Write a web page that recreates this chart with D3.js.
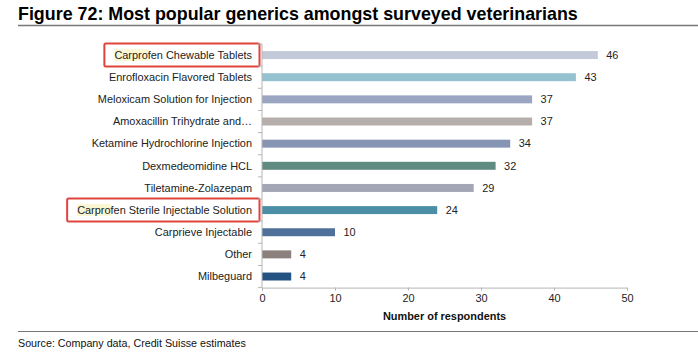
<!DOCTYPE html>
<html><head><meta charset="utf-8">
<script src="https://cdn.jsdelivr.net/npm/d3@7"></script>
<style>
html,body{margin:0;padding:0;background:#fff;}
svg{display:block;font-family:"Liberation Sans",Arial,sans-serif;}
</style></head>
<body><svg id="c" width="698" height="357"></svg>
<script>
const categories = [
  "Carprofen Chewable Tablets",
  "Enrofloxacin Flavored Tablets",
  "Meloxicam Solution for Injection",
  "Amoxacillin Trihydrate and\u2026",
  "Ketamine Hydrochlorine Injection",
  "Dexmedeomidine HCL",
  "Tiletamine-Zolazepam",
  "Carprofen Sterile Injectable Solution",
  "Carprieve Injectable",
  "Other",
  "Milbeguard"
];
const values = [46, 43, 37, 37, 34, 32, 29, 24, 10, 4, 4];
const barColors = ["#c3c9d8","#94c2d0","#9aa6c1","#b6aeaa","#8795b5","#5f8b80","#a2a6b5","#4a8fa6","#4e7099","#8b807c","#245282"];
const highlighted = ["Carprofen Chewable Tablets","Carprofen Sterile Injectable Solution"];
const xTicks = [0, 10, 20, 30, 40, 50];
const titleText = "Figure 72: Most popular generics amongst surveyed veterinarians";
const xAxisTitle = "Number of respondents";
const sourceText = "Source: Company data, Credit Suisse estimates";

const svg = d3.select("#c");
const x = d3.scaleLinear().domain([0, 50]).range([262, 627]);
const y = d3.scaleBand().domain(categories).range([44, 287.6]).paddingInner(0.64).paddingOuter(0.32);

function fit(sel, target){
  const w = sel.node().getComputedTextLength();
  const fs = parseFloat(sel.attr("font-size"));
  sel.attr("font-size", (fs * target / w).toFixed(2));
}

// Title
const t = svg.append("text").attr("x", 18).attr("y", 20).attr("font-size", 16)
  .attr("font-weight", "bold").attr("fill", "#000").text(titleText);
fit(t, 560);
svg.append("line").attr("x1", 18).attr("x2", 698).attr("y1", 25.5).attr("y2", 25.5)
  .attr("stroke", "#777").attr("stroke-width", 1.6);

const probe = svg.append("text").attr("font-size", 11).text(categories[7]);
fit(probe, 175);
const labelFs = +probe.attr("font-size");
probe.remove();

// highlight boxes
const boxes = svg.append("g");
categories.forEach(c => {
  if (!highlighted.includes(c)) return;
  const tmp = svg.append("text").attr("font-size", labelFs).text(c);
  const w = tmp.node().getComputedTextLength();
  const tmp2 = svg.append("text").attr("font-size", labelFs).text("Carpro");
  const w2 = tmp2.node().getComputedTextLength();
  tmp.remove(); tmp2.remove();
  const cy = y(c) + y.bandwidth()/2;
  boxes.append("rect").attr("x", 252 - w).attr("y", cy - 6).attr("width", w2 + 1).attr("height", 12)
    .attr("fill", "#fbf6d2");
  boxes.append("rect").attr("x", 252 - w - 10).attr("y", cy - 11.5).attr("width", w + 17.5).attr("height", 23)
    .attr("rx", 1.5).attr("fill", "none").attr("stroke", "#e0443c").attr("stroke-width", 2);
});

// bars
svg.append("g").selectAll("rect").data(categories).join("rect")
  .attr("x", x(0)).attr("y", d => y(d))
  .attr("width", (d, i) => x(values[i]) - x(0))
  .attr("height", y.bandwidth())
  .attr("fill", (d, i) => barColors[i]);

// value labels
svg.append("g").selectAll("text").data(categories).join("text")
  .attr("x", (d, i) => x(values[i]) + 8.5)
  .attr("y", d => y(d) + y.bandwidth()/2)
  .attr("dy", "0.35em").attr("font-size", labelFs).attr("fill", "#222")
  .text((d, i) => values[i]);

// category labels
svg.append("g").selectAll("text").data(categories).join("text")
  .attr("x", 252).attr("y", d => y(d) + y.bandwidth()/2)
  .attr("dy", "0.35em").attr("text-anchor", "end")
  .attr("font-size", labelFs).attr("fill", "#222").text(d => d);

// y axis line and boundary ticks
const yr = y.range();
svg.append("line").attr("x1", x(0)).attr("x2", x(0)).attr("y1", yr[0]).attr("y2", yr[1])
  .attr("stroke", "#b5b5b5").attr("stroke-width", 1);
const bounds = categories.map(c => y(c) - y.step()*y.paddingInner()/2);
bounds.push(yr[1]);
svg.append("g").selectAll("line").data(bounds).join("line")
  .attr("x1", x(0) - 4).attr("x2", x(0)).attr("y1", d => d).attr("y2", d => d)
  .attr("stroke", "#b5b5b5");

// x axis
const xa = svg.append("g").attr("transform", `translate(0,${yr[1]})`)
  .call(d3.axisBottom(x).tickValues(xTicks).tickSize(3).tickPadding(4));
xa.select(".domain").attr("stroke", "#b5b5b5");
xa.selectAll(".tick line").attr("stroke", "#b5b5b5");
xa.selectAll(".tick text").attr("font-size", labelFs).attr("fill", "#222")
  .attr("font-family", "Liberation Sans, Arial, sans-serif");

svg.append("text").attr("x", (x(0) + x(50))/2).attr("y", 320)
  .attr("text-anchor", "middle").attr("font-size", labelFs).attr("font-weight", "bold")
  .attr("fill", "#111").text(xAxisTitle);

// footer
svg.append("line").attr("x1", 18).attr("x2", 698).attr("y1", 331.5).attr("y2", 331.5)
  .attr("stroke", "#777").attr("stroke-width", 1.2);
const s = svg.append("text").attr("x", 18).attr("y", 346.5).attr("font-size", 10).attr("fill", "#111").text(sourceText);
fit(s, 228);
</script></body></html>
